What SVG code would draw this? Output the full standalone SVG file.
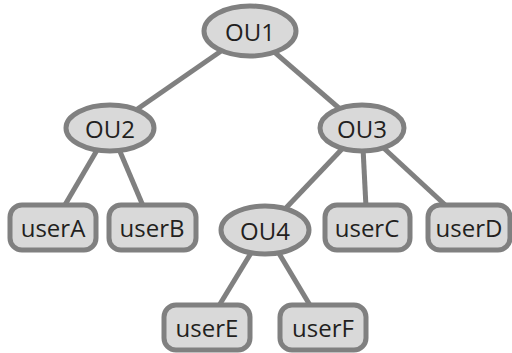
<svg xmlns="http://www.w3.org/2000/svg" width="512" height="353" viewBox="0 0 512 353">
<style>
.n{fill:#d9d9d9;stroke:#808080;stroke-width:5}
.c{stroke:#808080;stroke-width:5;fill:none}
text{font-family:"Open Sans","DejaVu Sans",sans-serif;font-size:24px;fill:#231f20;text-anchor:middle;dominant-baseline:central}
</style>
<rect width="512" height="353" fill="#fff"/>
<g id="connectors">
<line class="c" x1="250" y1="31" x2="110" y2="128"/>
<line class="c" x1="250" y1="31" x2="362" y2="128"/>
<line class="c" x1="110" y1="128" x2="52" y2="227"/>
<line class="c" x1="110" y1="128" x2="152" y2="227"/>
<line class="c" x1="362" y1="128" x2="265" y2="230"/>
<line class="c" x1="362" y1="128" x2="367" y2="227"/>
<line class="c" x1="362" y1="128" x2="469" y2="227"/>
<line class="c" x1="265" y1="230" x2="206" y2="327"/>
<line class="c" x1="265" y1="230" x2="323" y2="327"/>
</g>
<g id="OU1"><ellipse class="n" cx="250" cy="31" rx="46" ry="25"/><text x="250" y="31">OU1</text></g>
<g id="OU2"><ellipse class="n" cx="110" cy="128" rx="44" ry="23"/><text x="110" y="128">OU2</text></g>
<g id="OU3"><ellipse class="n" cx="362" cy="128" rx="42" ry="23"/><text x="362" y="128">OU3</text></g>
<g id="OU4"><ellipse class="n" cx="265" cy="230" rx="44" ry="24"/><text x="265" y="230">OU4</text></g>
<g id="userA"><rect class="n" x="10" y="205" width="86" height="45" rx="12"/><text x="53" y="227">userA</text></g>
<g id="userB"><rect class="n" x="109" y="205" width="87" height="45" rx="12"/><text x="152" y="227">userB</text></g>
<g id="userC"><rect class="n" x="325" y="205" width="85" height="45" rx="12"/><text x="367" y="227">userC</text></g>
<g id="userD"><rect class="n" x="428" y="205" width="82" height="45" rx="12"/><text x="469" y="227">userD</text></g>
<g id="userE"><rect class="n" x="164" y="305" width="86" height="45" rx="12"/><text x="207" y="327">userE</text></g>
<g id="userF"><rect class="n" x="280" y="305" width="86" height="45" rx="12"/><text x="323" y="327">userF</text></g>
</svg>
